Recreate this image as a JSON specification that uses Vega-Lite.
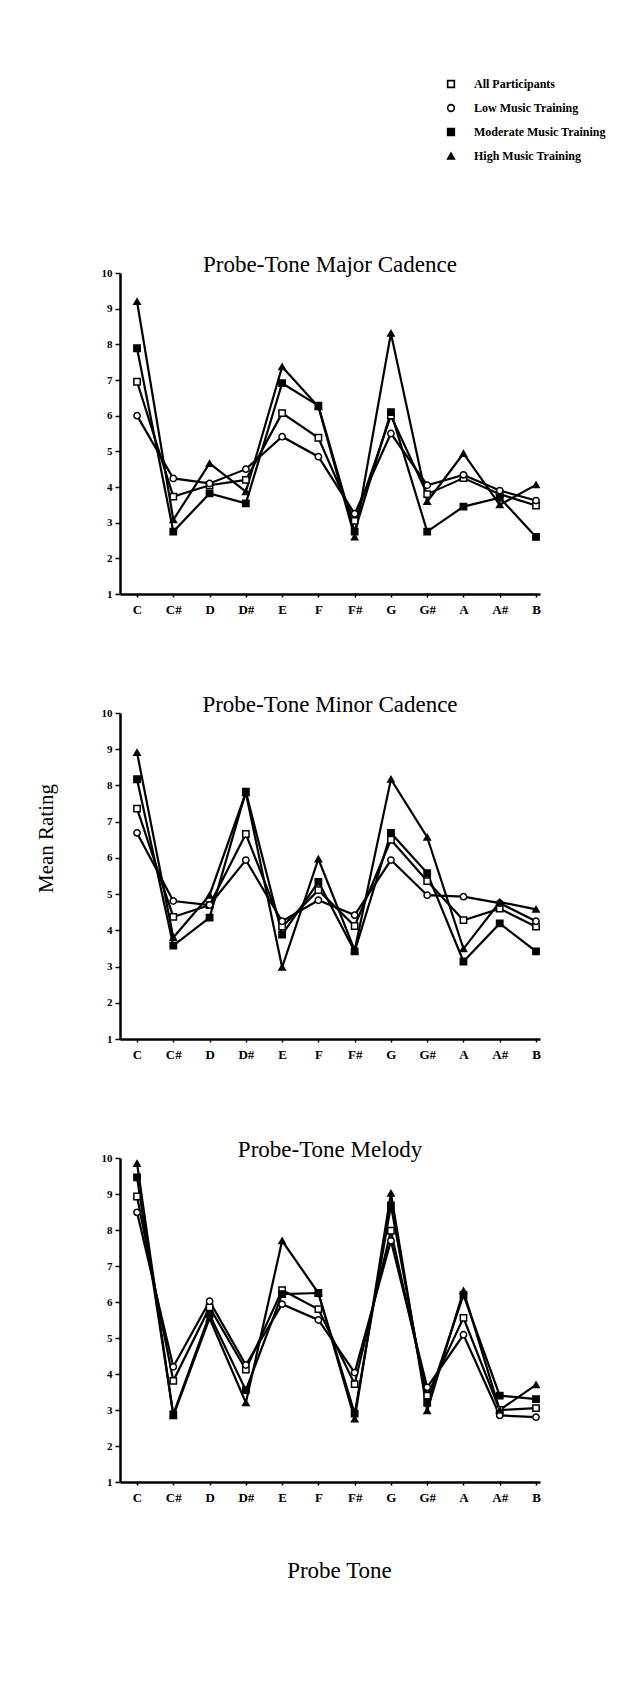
{
  "$schema": "https://vega.github.io/schema/vega-lite/v6.json",
  "background": "white",
  "padding": {"left": 35, "top": 78, "right": 5, "bottom": 5},
  "spacing": 78,
  "datasets": {
    "major": [
      {"tone": "C", "All Participants": 6.95, "Low Music Training": 6.0, "Moderate Music Training": 7.89, "High Music Training": 9.2},
      {"tone": "C#", "All Participants": 3.73, "Low Music Training": 4.24, "Moderate Music Training": 2.75, "High Music Training": 3.08},
      {"tone": "D", "All Participants": 4.05, "Low Music Training": 4.1, "Moderate Music Training": 3.82, "High Music Training": 4.66},
      {"tone": "D#", "All Participants": 4.2, "Low Music Training": 4.5, "Moderate Music Training": 3.54, "High Music Training": 3.87},
      {"tone": "E", "All Participants": 6.07, "Low Music Training": 5.41, "Moderate Music Training": 6.91, "High Music Training": 7.37},
      {"tone": "F", "All Participants": 5.38, "Low Music Training": 4.85, "Moderate Music Training": 6.28, "High Music Training": 6.25},
      {"tone": "F#", "All Participants": 3.05, "Low Music Training": 3.25, "Moderate Music Training": 2.75, "High Music Training": 2.6},
      {"tone": "G", "All Participants": 6.0, "Low Music Training": 5.5, "Moderate Music Training": 6.1, "High Music Training": 8.31},
      {"tone": "G#", "All Participants": 3.8, "Low Music Training": 4.05, "Moderate Music Training": 2.75, "High Music Training": 3.59},
      {"tone": "A", "All Participants": 4.25, "Low Music Training": 4.34, "Moderate Music Training": 3.45, "High Music Training": 4.94},
      {"tone": "A#", "All Participants": 3.8, "Low Music Training": 3.9, "Moderate Music Training": 3.7, "High Music Training": 3.5},
      {"tone": "B", "All Participants": 3.48, "Low Music Training": 3.62, "Moderate Music Training": 2.6, "High Music Training": 4.06}
    ],
    "minor": [
      {"tone": "C", "All Participants": 7.36, "Low Music Training": 6.69, "Moderate Music Training": 8.17, "High Music Training": 8.91},
      {"tone": "C#", "All Participants": 4.37, "Low Music Training": 4.81, "Moderate Music Training": 3.58, "High Music Training": 3.8},
      {"tone": "D", "All Participants": 4.7, "Low Music Training": 4.7, "Moderate Music Training": 4.35, "High Music Training": 4.97},
      {"tone": "D#", "All Participants": 6.66, "Low Music Training": 5.94, "Moderate Music Training": 7.83, "High Music Training": 7.8},
      {"tone": "E", "All Participants": 4.1, "Low Music Training": 4.25, "Moderate Music Training": 3.88, "High Music Training": 2.98},
      {"tone": "F", "All Participants": 5.11, "Low Music Training": 4.83, "Moderate Music Training": 5.34, "High Music Training": 5.97},
      {"tone": "F#", "All Participants": 4.12, "Low Music Training": 4.42, "Moderate Music Training": 3.42, "High Music Training": 3.45},
      {"tone": "G", "All Participants": 6.5, "Low Music Training": 5.94, "Moderate Music Training": 6.69, "High Music Training": 8.17},
      {"tone": "G#", "All Participants": 5.36, "Low Music Training": 4.97, "Moderate Music Training": 5.58, "High Music Training": 6.57},
      {"tone": "A", "All Participants": 4.28, "Low Music Training": 4.93, "Moderate Music Training": 3.14, "High Music Training": 3.49},
      {"tone": "A#", "All Participants": 4.6, "Low Music Training": 4.75, "Moderate Music Training": 4.19, "High Music Training": 4.78},
      {"tone": "B", "All Participants": 4.1, "Low Music Training": 4.25, "Moderate Music Training": 3.42, "High Music Training": 4.58}
    ],
    "melody": [
      {"tone": "C", "All Participants": 8.93, "Low Music Training": 8.49, "Moderate Music Training": 9.46, "High Music Training": 9.85},
      {"tone": "C#", "All Participants": 3.81, "Low Music Training": 4.2, "Moderate Music Training": 2.88, "High Music Training": 2.84},
      {"tone": "D", "All Participants": 5.85, "Low Music Training": 6.02, "Moderate Music Training": 5.65, "High Music Training": 5.55},
      {"tone": "D#", "All Participants": 4.12, "Low Music Training": 4.25, "Moderate Music Training": 3.55, "High Music Training": 3.2},
      {"tone": "E", "All Participants": 6.33, "Low Music Training": 5.94, "Moderate Music Training": 6.22, "High Music Training": 7.7},
      {"tone": "F", "All Participants": 5.8, "Low Music Training": 5.5, "Moderate Music Training": 6.25, "High Music Training": 6.25},
      {"tone": "F#", "All Participants": 3.72, "Low Music Training": 4.04, "Moderate Music Training": 2.9, "High Music Training": 2.75},
      {"tone": "G", "All Participants": 7.98, "Low Music Training": 7.7, "Moderate Music Training": 8.68, "High Music Training": 9.02},
      {"tone": "G#", "All Participants": 3.4, "Low Music Training": 3.63, "Moderate Music Training": 3.2, "High Music Training": 2.98},
      {"tone": "A", "All Participants": 5.56, "Low Music Training": 5.09, "Moderate Music Training": 6.2, "High Music Training": 6.31},
      {"tone": "A#", "All Participants": 3.0, "Low Music Training": 2.85, "Moderate Music Training": 3.4, "High Music Training": 3.0},
      {"tone": "B", "All Participants": 3.05, "Low Music Training": 2.8, "Moderate Music Training": 3.3, "High Music Training": 3.7}
    ]
  },
  "vconcat": [
    {
      "data": {"name": "major"},
      "title": "Probe-Tone Major Cadence",
      "width": 420,
      "height": 321,
      "transform": [{"fold": ["All Participants", "Low Music Training", "Moderate Music Training", "High Music Training"], "as": ["group", "rating"]}],
      "encoding": {
        "x": {"field": "tone", "type": "ordinal", "sort": ["C", "C#", "D", "D#", "E", "F", "F#", "G", "G#", "A", "A#", "B"], "scale": {"type": "point", "padding": 0.29, "align": 0.81}, "axis": {"title": null}},
        "y": {"field": "rating", "type": "quantitative", "scale": {"domain": [1, 10], "nice": false, "zero": false}, "axis": {"title": null, "values": [1, 2, 3, 4, 5, 6, 7, 8, 9, 10]}}
      },
      "layer": [
        {"mark": {"type": "line", "color": "black", "strokeWidth": 2.2}, "encoding": {"detail": {"field": "group"}}},
        {"mark": {"type": "point", "filled": true, "strokeWidth": 1.5, "size": 40, "opacity": 1},
         "encoding": {
           "shape": {"field": "group", "type": "nominal", "scale": {"domain": ["All Participants", "Low Music Training", "Moderate Music Training", "High Music Training"], "range": ["square", "circle", "square", "triangle-up"]},
             "legend": {"orient": "none", "legendX": 325, "legendY": -195, "title": null}},
           "fill": {"field": "group", "type": "nominal", "scale": {"domain": ["All Participants", "Low Music Training", "Moderate Music Training", "High Music Training"], "range": ["white", "white", "black", "black"]},
             "legend": {"orient": "none", "legendX": 325, "legendY": -195, "title": null}},
           "stroke": {"field": "group", "type": "nominal", "scale": {"domain": ["All Participants", "Low Music Training", "Moderate Music Training", "High Music Training"], "range": ["black", "black", "black", "black"]},
             "legend": {"orient": "none", "legendX": 325, "legendY": -195, "title": null}}
         }}
      ]
    },
    {
      "data": {"name": "minor"},
      "title": "Probe-Tone Minor Cadence",
      "width": 420,
      "height": 326,
      "transform": [{"fold": ["All Participants", "Low Music Training", "Moderate Music Training", "High Music Training"], "as": ["group", "rating"]}],
      "encoding": {
        "x": {"field": "tone", "type": "ordinal", "sort": ["C", "C#", "D", "D#", "E", "F", "F#", "G", "G#", "A", "A#", "B"], "scale": {"type": "point", "padding": 0.29, "align": 0.81}, "axis": {"title": null}},
        "y": {"field": "rating", "type": "quantitative", "scale": {"domain": [1, 10], "nice": false, "zero": false}, "axis": {"title": "Mean Rating", "titlePadding": 45, "titleY": 125, "values": [1, 2, 3, 4, 5, 6, 7, 8, 9, 10]}}
      },
      "layer": [
        {"mark": {"type": "line", "color": "black", "strokeWidth": 2.2}, "encoding": {"detail": {"field": "group"}}},
        {"mark": {"type": "point", "filled": true, "strokeWidth": 1.5, "size": 40, "opacity": 1},
         "encoding": {
           "shape": {"field": "group", "type": "nominal", "scale": {"domain": ["All Participants", "Low Music Training", "Moderate Music Training", "High Music Training"], "range": ["square", "circle", "square", "triangle-up"]}},
           "fill": {"field": "group", "type": "nominal", "scale": {"domain": ["All Participants", "Low Music Training", "Moderate Music Training", "High Music Training"], "range": ["white", "white", "black", "black"]}},
           "stroke": {"field": "group", "type": "nominal", "scale": {"domain": ["All Participants", "Low Music Training", "Moderate Music Training", "High Music Training"], "range": ["black", "black", "black", "black"]}}
         }}
      ]
    },
    {
      "data": {"name": "melody"},
      "title": "Probe-Tone Melody",
      "width": 420,
      "height": 324,
      "transform": [{"fold": ["All Participants", "Low Music Training", "Moderate Music Training", "High Music Training"], "as": ["group", "rating"]}],
      "encoding": {
        "x": {"field": "tone", "type": "ordinal", "sort": ["C", "C#", "D", "D#", "E", "F", "F#", "G", "G#", "A", "A#", "B"], "scale": {"type": "point", "padding": 0.29, "align": 0.81}, "axis": {"title": "Probe Tone", "titlePadding": 55, "titleX": 219}},
        "y": {"field": "rating", "type": "quantitative", "scale": {"domain": [1, 10], "nice": false, "zero": false}, "axis": {"title": null, "values": [1, 2, 3, 4, 5, 6, 7, 8, 9, 10]}}
      },
      "layer": [
        {"mark": {"type": "line", "color": "black", "strokeWidth": 2.2}, "encoding": {"detail": {"field": "group"}}},
        {"mark": {"type": "point", "filled": true, "strokeWidth": 1.5, "size": 40, "opacity": 1},
         "encoding": {
           "shape": {"field": "group", "type": "nominal", "scale": {"domain": ["All Participants", "Low Music Training", "Moderate Music Training", "High Music Training"], "range": ["square", "circle", "square", "triangle-up"]}},
           "fill": {"field": "group", "type": "nominal", "scale": {"domain": ["All Participants", "Low Music Training", "Moderate Music Training", "High Music Training"], "range": ["white", "white", "black", "black"]}},
           "stroke": {"field": "group", "type": "nominal", "scale": {"domain": ["All Participants", "Low Music Training", "Moderate Music Training", "High Music Training"], "range": ["black", "black", "black", "black"]}}
         }}
      ]
    }
  ],
  "resolve": {"scale": {"shape": "shared", "fill": "shared", "stroke": "shared"}, "legend": {"shape": "shared", "fill": "shared", "stroke": "shared"}},
  "config": {
    "view": {"stroke": null},
    "title": {"font": "Liberation Serif", "fontSize": 23, "fontWeight": "normal", "color": "black", "offset": -10, "anchor": "middle"},
    "axis": {"domainColor": "black", "domainWidth": 2.5, "tickColor": "black", "tickWidth": 1.5, "grid": false, "labelColor": "black", "labelFont": "Liberation Serif", "labelFontWeight": "bold", "titleFont": "Liberation Serif", "titleFontWeight": "normal", "titleColor": "black"},
    "axisY": {"labelFontSize": 11, "tickSize": 5, "labelPadding": 3, "labelFlush": false, "labelOverlap": false, "titleFontSize": 21},
    "axisX": {"labelFontSize": 13, "tickSize": 3, "labelPadding": 6, "labelAngle": 0, "titleFontSize": 23},
    "legend": {"labelFont": "Liberation Serif", "labelFontWeight": "bold", "labelFontSize": 12, "labelColor": "black", "symbolSize": 45, "symbolStrokeWidth": 1.6, "rowPadding": 10, "labelOffset": 17}
  }
}
